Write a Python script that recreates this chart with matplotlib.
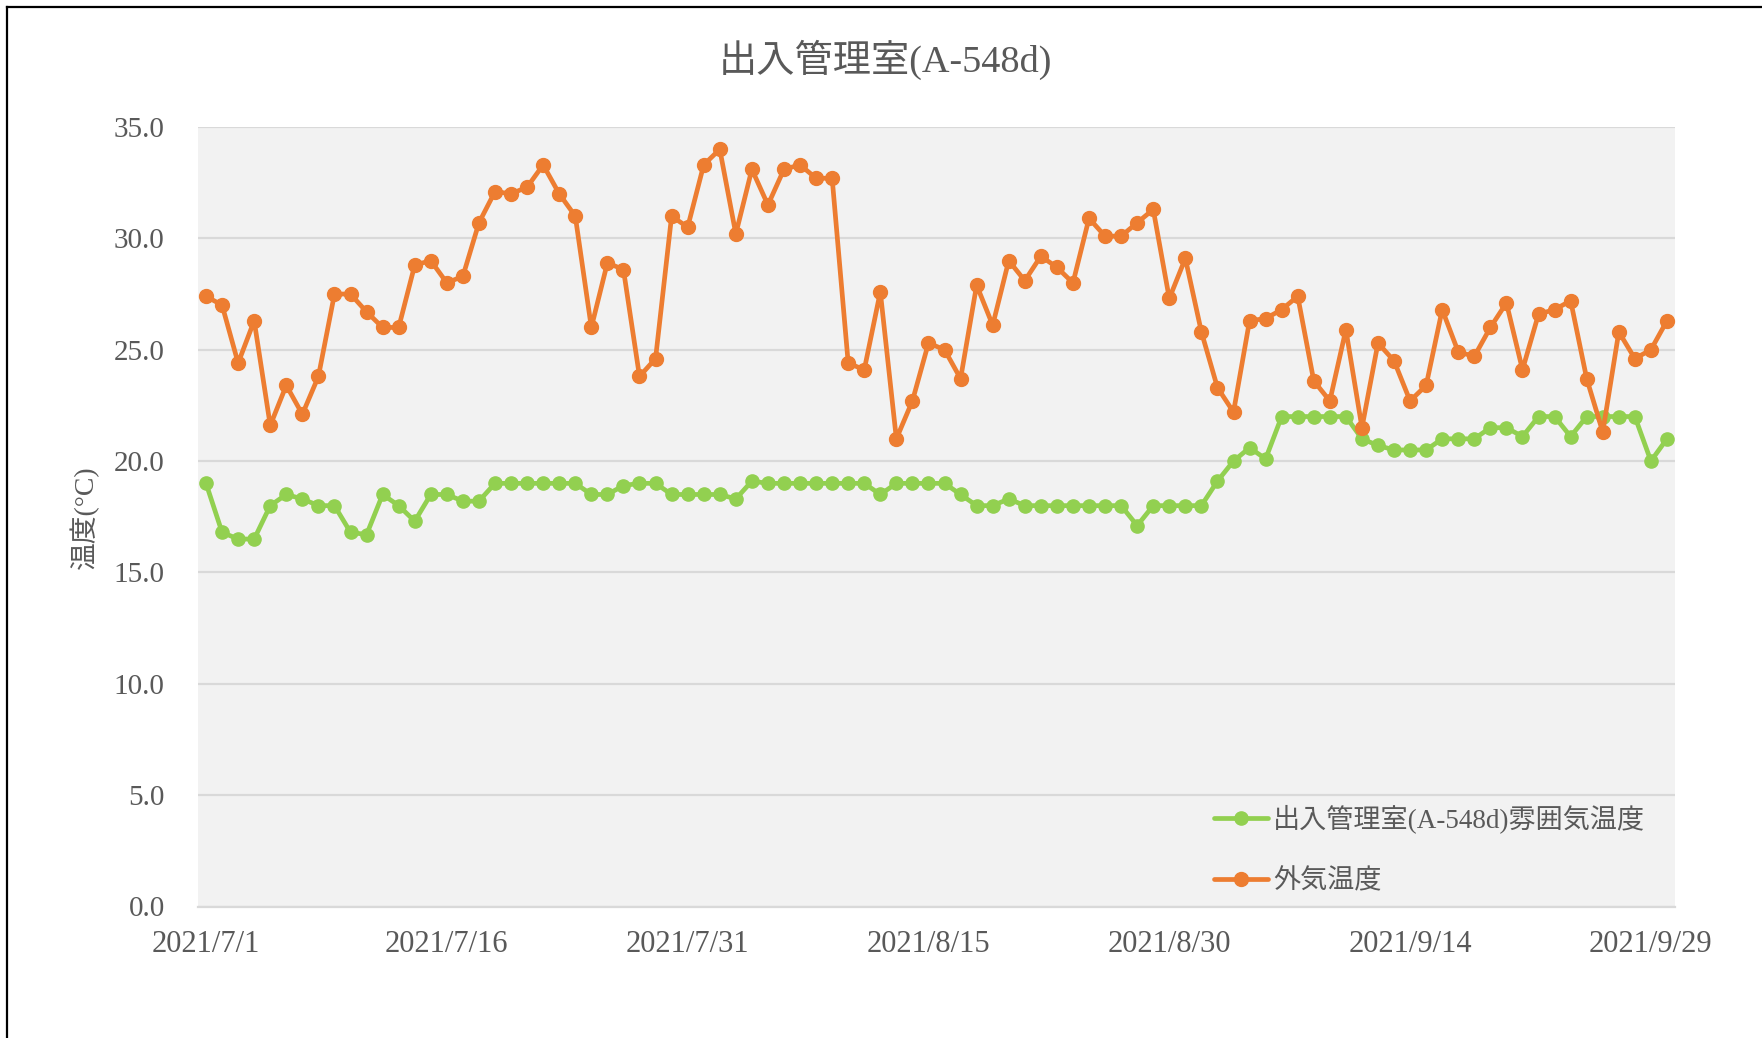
import matplotlib
matplotlib.use("Agg")
import matplotlib.pyplot as plt
from matplotlib.lines import Line2D

# ---- data ----
dates = list(range(92))  # 2021/7/1 .. 2021/9/30, one point per day
tick_positions = [0, 15, 30, 45, 60, 75, 90]
tick_labels = ["2021/7/1", "2021/7/16", "2021/7/31", "2021/8/15",
               "2021/8/30", "2021/9/14", "2021/9/29"]

room_temp = [19.0, 16.8, 16.5, 16.5, 18.0, 18.5, 18.3, 18.0, 18.0, 16.8,
             16.7, 18.5, 18.0, 17.3, 18.5, 18.5, 18.2, 18.2, 19.0, 19.0,
             19.0, 19.0, 19.0, 19.0, 18.5, 18.5, 18.9, 19.0, 19.0, 18.5,
             18.5, 18.5, 18.5, 18.3, 19.1, 19.0, 19.0, 19.0, 19.0, 19.0,
             19.0, 19.0, 18.5, 19.0, 19.0, 19.0, 19.0, 18.5, 18.0, 18.0,
             18.3, 18.0, 18.0, 18.0, 18.0, 18.0, 18.0, 18.0, 17.1, 18.0,
             18.0, 18.0, 18.0, 19.1, 20.0, 20.6, 20.1, 22.0, 22.0, 22.0,
             22.0, 22.0, 21.0, 20.7, 20.5, 20.5, 20.5, 21.0, 21.0, 21.0,
             21.5, 21.5, 21.1, 22.0, 22.0, 21.1, 22.0, 22.0, 22.0, 22.0,
             20.0, 21.0]

outside_temp = [27.4, 27.0, 24.4, 26.3, 21.6, 23.4, 22.1, 23.8, 27.5, 27.5,
                26.7, 26.0, 26.0, 28.8, 29.0, 28.0, 28.3, 30.7, 32.1, 32.0,
                32.3, 33.3, 32.0, 31.0, 26.0, 28.9, 28.6, 23.8, 24.6, 31.0,
                30.5, 33.3, 34.0, 30.2, 33.1, 31.5, 33.1, 33.3, 32.7, 32.7,
                24.4, 24.1, 27.6, 21.0, 22.7, 25.3, 25.0, 23.7, 27.9, 26.1,
                29.0, 28.1, 29.2, 28.7, 28.0, 30.9, 30.1, 30.1, 30.7, 31.3,
                27.3, 29.1, 25.8, 23.3, 22.2, 26.3, 26.4, 26.8, 27.4, 23.6,
                22.7, 25.9, 21.5, 25.3, 24.5, 22.7, 23.4, 26.8, 24.9, 24.7,
                26.0, 27.1, 24.1, 26.6, 26.8, 27.2, 23.7, 21.3, 25.8, 24.6,
                25.0, 26.3]

title = "出入管理室(A-548d)"
ylabel = "温度(°C)"
series_names = ["出入管理室(A-548d)雰囲気温度", "外気温度"]
yticks = [0, 5, 10, 15, 20, 25, 30, 35]

# ---- style ----
FONT = ["Liberation Serif", "Noto Sans CJK JP", "DejaVu Sans"]
plt.rcParams["font.family"] = FONT
TXT = "#595959"
GREEN = "#92D050"
ORANGE = "#ED7D31"
GRID = "#D9D9D9"

fig = plt.figure(figsize=(17.62, 10.38), dpi=100)
W, H = 1762, 1038
ax = fig.add_axes([198 / W, 1 - 906.5 / H, (1675 - 198) / W, (906.5 - 127) / H])
ax.set_facecolor("#F2F2F2")

ax.plot(dates, room_temp, color=GREEN, lw=3.4, marker="o", ms=9.5,
        solid_capstyle="round", label=series_names[0], zorder=3)
ax.plot(dates, outside_temp, color=ORANGE, lw=3.4, marker="o", ms=10,
        solid_capstyle="round", label=series_names[1], zorder=4)

ax.set_xlim(-0.5, 91.5)
ax.set_ylim(0, 35)
ax.set_yticks(yticks)
ax.set_yticklabels([f"{v:.1f}" for v in yticks])
ax.set_xticks(tick_positions)
ax.set_xticklabels(tick_labels)
ax.yaxis.grid(True, color=GRID, lw=1.6, zorder=0)
ax.set_axisbelow(True)
for s in ["top", "right", "left"]:
    ax.spines[s].set_visible(False)
ax.spines["bottom"].set_color(GRID)
ax.spines["bottom"].set_linewidth(1.6)
ax.tick_params(axis="both", length=0, labelcolor=TXT)
ax.tick_params(axis="y", pad=24, labelsize=21)
ax.tick_params(axis="x", pad=17, labelsize=22)

ax.set_ylabel(ylabel, fontsize=20, color=TXT, labelpad=0)
ax.yaxis.set_label_coords((99 - 198) / (1675 - 198), 0.5)

fig.text(885 / W, 1 - 60 / H, title, fontsize=27.5, color=TXT,
         ha="center", va="center")

leg = ax.legend(loc="center left", bbox_to_anchor=(1214 / W, 1 - 849.5 / H),
                bbox_transform=fig.transFigure, frameon=False, fontsize=19.5,
                borderpad=0, borderaxespad=0, handlelength=2.0,
                handletextpad=0.18, labelspacing=1.3, numpoints=1)
for t in leg.get_texts():
    t.set_color(TXT)

# chart frame (top and left edges visible in the crop)
fig.add_artist(Line2D([7 / W, 7 / W], [0, 1 - 7 / H], color="black", lw=1.6,
                      transform=fig.transFigure))
fig.add_artist(Line2D([7 / W, 1], [1 - 7 / H, 1 - 7 / H], color="black", lw=1.6,
                      transform=fig.transFigure))

fig.savefig("out.png", dpi=100)
